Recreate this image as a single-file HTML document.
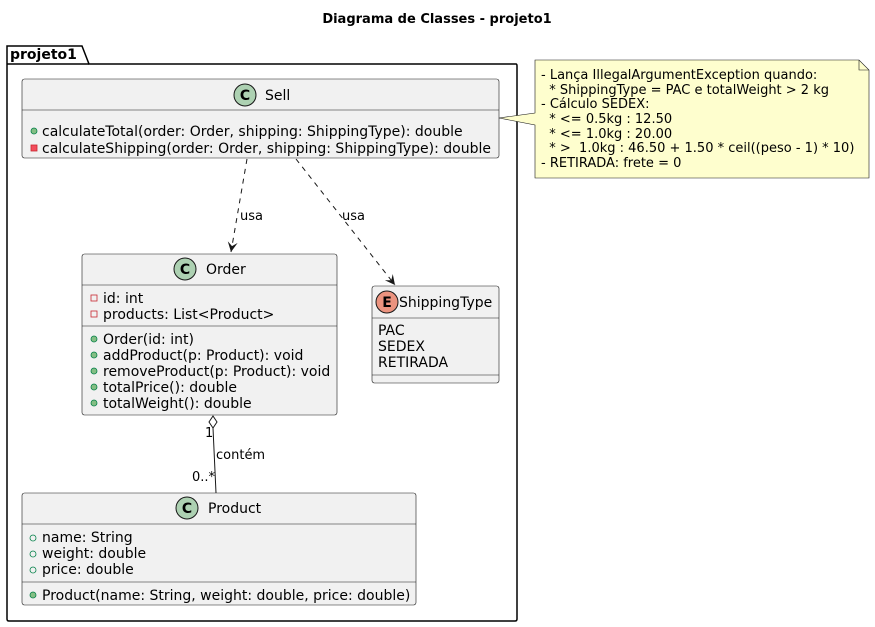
<!DOCTYPE html>
<html><head><meta charset="utf-8"><style>
body{margin:0;background:#fff}
svg{display:block}
text{font-family:"DejaVu Sans","Liberation Sans",sans-serif;font-size:14px;fill:#000}
text.n{font-size:13px}
</style></head><body>
<svg width="875" height="627" viewBox="0 0 875 627" xmlns="http://www.w3.org/2000/svg">
<defs>
<marker id="ah" markerWidth="12" markerHeight="12" refX="10" refY="5" orient="auto" markerUnits="userSpaceOnUse">
<path d="M0,0 L10,5 L0,10 L4,5 Z" fill="#181818"/>
</marker>
</defs>
<text x="437" y="23" text-anchor="middle" style="font-weight:bold;font-size:13px">Diagrama de Classes - projeto1</text>

<path d="M7,46 L82,46 L89,64 L516,64 Q517,64 517,66 L517,619 Q517,621 515,621 L9,621 Q7,621 7,619 Z" fill="none" stroke="#000" stroke-width="1.5"/>
<line x1="7" y1="64" x2="89" y2="64" stroke="#000" stroke-width="1.5"/>
<text x="10" y="59" style="font-weight:bold">projeto1</text>

<!-- Sell -->
<rect x="22" y="79" width="477" height="79" rx="2.5" fill="#f1f1f1" stroke="#181818" stroke-width="0.6"/>
<line x1="22" y1="110" x2="499" y2="110" stroke="#181818" stroke-width="0.6"/>
<circle cx="245" cy="95" r="11" fill="#add1b2" stroke="#181818" stroke-width="1"/>
<text x="245" y="100" text-anchor="middle" style="font-weight:bold">C</text>
<text x="265" y="100">Sell</text>
<circle cx="34" cy="131" r="3" fill="#84be84" stroke="#038048" stroke-width="0.8"/>
<text x="42" y="136">calculateTotal(order: Order, shipping: ShippingType): double</text>
<rect x="31" y="145" width="6" height="6" fill="#f24d5c" stroke="#c82930" stroke-width="0.8"/>
<text x="42" y="153">calculateShipping(order: Order, shipping: ShippingType): double</text>

<!-- Order -->
<rect x="82" y="254" width="255" height="161" rx="2.5" fill="#f1f1f1" stroke="#181818" stroke-width="0.6"/>
<line x1="82" y1="285" x2="337" y2="285" stroke="#181818" stroke-width="0.6"/>
<line x1="82" y1="326" x2="337" y2="326" stroke="#181818" stroke-width="0.6"/>
<circle cx="185" cy="269" r="11" fill="#add1b2" stroke="#181818" stroke-width="1"/>
<text x="185" y="274" text-anchor="middle" style="font-weight:bold">C</text>
<text x="206" y="274">Order</text>
<rect x="91" y="295" width="6" height="6" fill="none" stroke="#c82930" stroke-width="0.8"/>
<text x="103" y="303">id: int</text>
<rect x="91" y="311" width="6" height="6" fill="none" stroke="#c82930" stroke-width="0.8"/>
<text x="103" y="319">products: List&lt;Product&gt;</text>
<g fill="#84be84" stroke="#038048" stroke-width="0.8">
<circle cx="94" cy="339" r="3"/><circle cx="94" cy="355" r="3"/><circle cx="94" cy="371" r="3"/><circle cx="94" cy="387" r="3"/><circle cx="94" cy="403" r="3"/>
</g>
<text x="103" y="344">Order(id: int)</text>
<text x="103" y="360">addProduct(p: Product): void</text>
<text x="103" y="376">removeProduct(p: Product): void</text>
<text x="103" y="392">totalPrice(): double</text>
<text x="103" y="408">totalWeight(): double</text>

<!-- ShippingType -->
<rect x="372" y="286" width="127" height="97" rx="2.5" fill="#f1f1f1" stroke="#181818" stroke-width="0.6"/>
<line x1="372" y1="318" x2="499" y2="318" stroke="#181818" stroke-width="0.6"/>
<line x1="372" y1="375" x2="499" y2="375" stroke="#181818" stroke-width="0.6"/>
<circle cx="387" cy="302" r="11" fill="#eb937f" stroke="#181818" stroke-width="1"/>
<text x="387" y="307" text-anchor="middle" style="font-weight:bold">E</text>
<text x="399" y="307">ShippingType</text>
<text x="378" y="335">PAC</text>
<text x="378" y="351">SEDEX</text>
<text x="378" y="367">RETIRADA</text>

<!-- Product -->
<rect x="22" y="493" width="394" height="112" rx="2.5" fill="#f1f1f1" stroke="#181818" stroke-width="0.6"/>
<line x1="22" y1="524" x2="416" y2="524" stroke="#181818" stroke-width="0.6"/>
<line x1="22" y1="582" x2="416" y2="582" stroke="#181818" stroke-width="0.6"/>
<circle cx="187" cy="508" r="11" fill="#add1b2" stroke="#181818" stroke-width="1"/>
<text x="187" y="513" text-anchor="middle" style="font-weight:bold">C</text>
<text x="208" y="513">Product</text>
<g fill="none" stroke="#038048" stroke-width="0.8">
<circle cx="33" cy="538" r="3"/><circle cx="33" cy="554" r="3"/><circle cx="33" cy="570" r="3"/>
</g>
<circle cx="33" cy="595" r="3" fill="#84be84" stroke="#038048" stroke-width="0.8"/>
<text x="42" y="542">name: String</text>
<text x="42" y="558">weight: double</text>
<text x="42" y="574">price: double</text>
<text x="42" y="600">Product(name: String, weight: double, price: double)</text>

<!-- connectors -->
<line x1="247" y1="159" x2="231" y2="252" stroke="#181818" stroke-dasharray="5,5" marker-end="url(#ah)"/>
<text class="n" x="240" y="220">usa</text>
<line x1="296" y1="159" x2="395" y2="285" stroke="#181818" stroke-dasharray="5,5" marker-end="url(#ah)"/>
<text class="n" x="342" y="220">usa</text>

<path d="M213,416 L217,422 L213,428 L209,422 Z" fill="#fff" stroke="#181818"/>
<line x1="213" y1="428" x2="216" y2="493" stroke="#181818"/>
<text class="n" x="205" y="437">1</text>
<text class="n" x="192" y="481">0..*</text>
<text class="n" x="216" y="459">contém</text>

<!-- note -->
<path d="M535,60 L859,60 L869,70 L869,178 L535,178 L535,125 L499,118 L535,113 Z" fill="#fefece" stroke="#181818" stroke-width="0.6"/>
<path d="M859,60 L859,70 L869,70" fill="none" stroke="#181818" stroke-width="0.6"/>
<text class="n" x="541" y="79" xml:space="preserve">- Lança IllegalArgumentException quando:</text>
<text class="n" x="541" y="94" xml:space="preserve">  * ShippingType = PAC e totalWeight &gt; 2 kg</text>
<text class="n" x="541" y="108" xml:space="preserve">- Cálculo SEDEX:</text>
<text class="n" x="541" y="123" xml:space="preserve">  * &lt;= 0.5kg : 12.50</text>
<text class="n" x="541" y="138" xml:space="preserve">  * &lt;= 1.0kg : 20.00</text>
<text class="n" x="541" y="152" xml:space="preserve">  * &gt;  1.0kg : 46.50 + 1.50 * ceil((peso - 1) * 10)</text>
<text class="n" x="541" y="167" xml:space="preserve">- RETIRADA: frete = 0</text>
</svg>
</body></html>
